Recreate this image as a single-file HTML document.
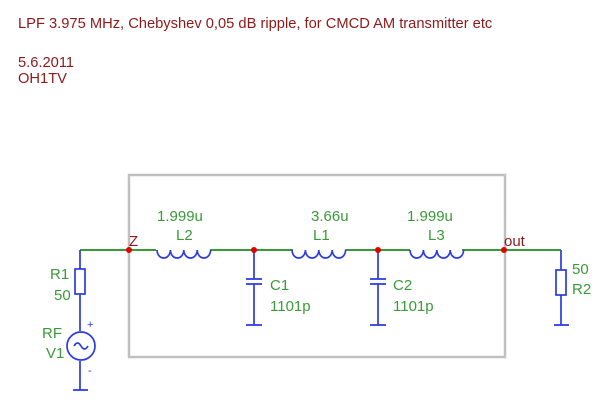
<!DOCTYPE html>
<html><head><style>body{margin:0;background:#fff}svg{display:block}</style></head><body>
<svg width="602" height="411" xmlns="http://www.w3.org/2000/svg" font-family="Liberation Sans, sans-serif">
<text x="18" y="28" font-size="14.7" fill="#8b1a1a">LPF 3.975 MHz, Chebyshev 0,05 dB ripple, for CMCD AM transmitter etc</text>
<text x="18" y="67" font-size="14.7" fill="#8b1a1a">5.6.2011</text>
<text x="18" y="83" font-size="14.7" fill="#8b1a1a">OH1TV</text>
<rect x="129" y="175" width="376" height="182" fill="none" stroke="#c0c0c0" stroke-width="2.5"/>
<g stroke="#3a9a3a" stroke-width="2" fill="none">
<path d="M80 250H156M210 250H293M345 250H410M462 250H561"/>
</g>
<g stroke="#2a3be0" stroke-width="1.7" fill="none">
<path d="M80 250V269M80 294V331M80 361V390M73 390H88"/>
<rect x="75" y="269" width="10" height="25"/>
<circle cx="81" cy="346" r="14"/>
<path d="M74 346q3.5-6 7 0t7 0"/>
<path d="M561 250V270M561 295V325M554 325H569"/>
<rect x="556" y="270" width="10" height="25"/>
<path d="M254 250V279M246 279H262M246 284H262M254 284V325M246 325H262"/>
<path d="M378 250V279M370 279H386M370 284H386M378 284V325M370 325H386"/>
<path d="M157 250a6.7 8 0 0 0 13.4 0a6.7 8 0 0 0 13.4 0a6.7 8 0 0 0 13.4 0a6.7 8 0 0 0 13.4 0"/>
<path d="M292 250a6.7 8 0 0 0 13.4 0a6.7 8 0 0 0 13.4 0a6.7 8 0 0 0 13.4 0a6.7 8 0 0 0 13.4 0"/>
<path d="M410 250a6.7 8 0 0 0 13.4 0a6.7 8 0 0 0 13.4 0a6.7 8 0 0 0 13.4 0a6.7 8 0 0 0 13.4 0"/>
</g>
<g fill="#2a3be0" font-size="11"><text x="87" y="328">+</text><text x="88" y="374">-</text></g>
<g fill="#e00000"><circle cx="129" cy="250" r="3"/><circle cx="254" cy="250" r="3"/><circle cx="378" cy="250" r="3"/><circle cx="504" cy="250" r="3"/></g>
<text x="129" y="246" font-size="15" fill="#8b1a1a">Z</text>
<text x="504" y="246" font-size="15" fill="#8b1a1a">out</text>
<g font-size="15" fill="#3a9a3a">
<text x="157" y="221">1.999u</text><text x="176" y="240">L2</text>
<text x="311" y="221">3.66u</text><text x="313" y="240">L1</text>
<text x="407" y="221">1.999u</text><text x="428" y="240">L3</text>
<text x="270" y="290">C1</text><text x="270" y="311">1101p</text>
<text x="393" y="290">C2</text><text x="393" y="311">1101p</text>
<text x="572" y="274">50</text><text x="572" y="294">R2</text>
<text x="50" y="279">R1</text><text x="54" y="300">50</text>
<text x="42" y="338">RF</text><text x="46" y="358">V1</text>
</g>
</svg>
</body></html>
